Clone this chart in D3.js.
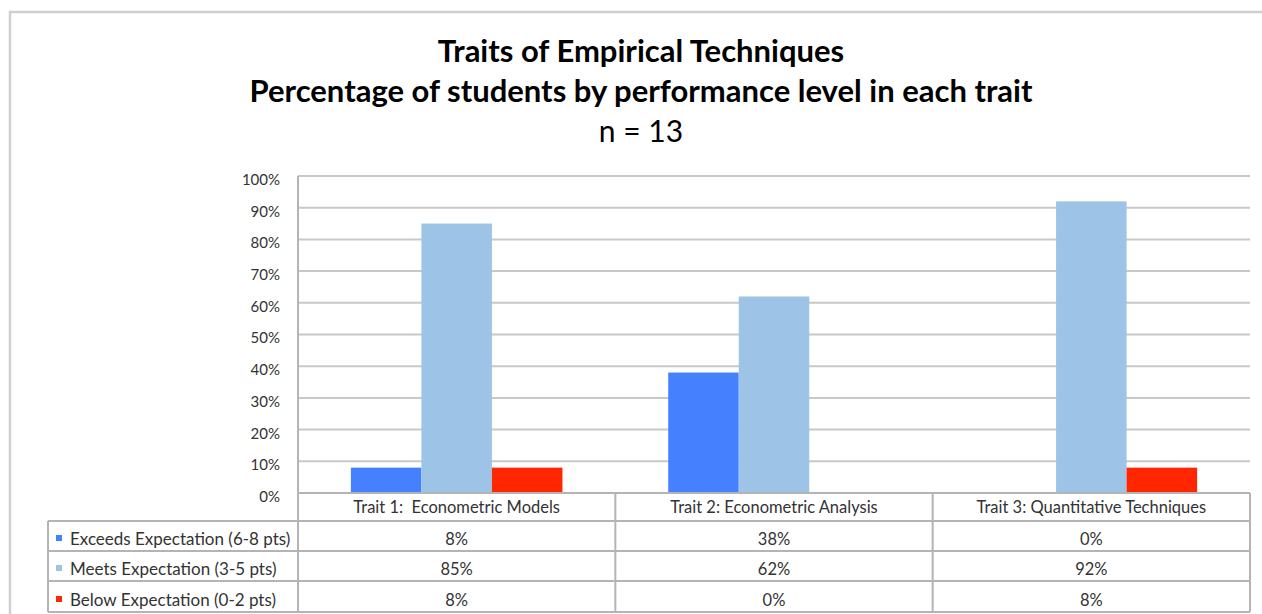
<!DOCTYPE html>
<html>
<head>
<meta charset="utf-8">
<script src="https://cdn.jsdelivr.net/npm/d3@7"></script>
<style>
  body { margin: 0; background: #fff; }
  svg text { font-family: Lato, "Open Sans", sans-serif; white-space: pre; }
</style>
</head>
<body>
<div id="chart"></div>
<script>
// --- data ---
const traits = ["Trait 1:  Econometric Models", "Trait 2: Econometric Analysis", "Trait 3: Quantitative Techniques"];
const levels = ["Exceeds Expectation (6-8 pts)", "Meets Expectation (3-5 pts)", "Below Expectation (0-2 pts)"];
const exceeds = [8, 38, 0];
const meets = [85, 62, 92];
const below = [8, 0, 8];
const yTicks = [0, 10, 20, 30, 40, 50, 60, 70, 80, 90, 100];
const colors = ["#4580ff", "#9dc3e6", "#ff2600"];
const titleLines = ["Traits of Empirical Techniques", "Percentage of students by performance level in each trait", "n = 13"];

const series = [exceeds, meets, below];

const W = 1262, H = 614;
const plotLeft = 298, plotRight = 1250, plotTop = 176, plotBottom = 493;
const rowH = [521, 551, 581, 612]; // table row bottoms (header, rows)
const legendLeft = 48;

const svg = d3.select("#chart").append("svg").attr("width", W).attr("height", H);

// outer frame
svg.append("path").attr("d", `M10,${H + 5} V12 H${W + 5}`)
  .attr("fill", "none").attr("stroke", "#cfcfcf").attr("stroke-width", 2.5);

// titles
const titleY = [62, 102, 142];
const titleSize = [31, 31, 30];
svg.selectAll(".title").data(titleLines).enter().append("text")
  .attr("class", "title")
  .attr("x", 641).attr("y", (d, i) => titleY[i])
  .attr("text-anchor", "middle")
  .style("font-size", (d, i) => titleSize[i] + "px")
  .style("font-weight", (d, i) => i < 2 ? "700" : "400")
  .style("fill", "#000")
  .text(d => d);

const y = d3.scaleLinear().domain([0, 100]).range([plotBottom, plotTop]);
const x = d3.scaleBand().domain(traits).range([plotLeft, plotRight]).padding(0);
const xs = d3.scaleBand().domain(d3.range(levels.length)).range([0, x.bandwidth()]).paddingInner(0).paddingOuter(0.75);

// gridlines
svg.append("g").selectAll("line").data(yTicks).enter().append("line")
  .attr("x1", plotLeft).attr("x2", plotRight)
  .attr("y1", d => y(d)).attr("y2", d => y(d))
  .attr("stroke", "#c8c8c8").attr("stroke-width", 2);

// y axis labels
const yAxis = d3.axisLeft(y).tickValues(yTicks).tickFormat(d => d + "%").tickSize(0).tickPadding(18);
const ya = svg.append("g").attr("transform", `translate(${plotLeft},0)`).call(yAxis);
ya.select(".domain").remove();
ya.selectAll("text").attr("dy", "0.56em").style("font-size", "15px").style("fill", "#333");

// bars
const bars = svg.append("g");
traits.forEach((t, ti) => {
  series.forEach((s, si) => {
    if (!s[ti]) return;
    bars.append("rect")
      .attr("x", x(t) + xs(si)).attr("width", xs.bandwidth())
      .attr("y", y(s[ti])).attr("height", y(0) - y(s[ti]))
      .attr("fill", colors[si]);
  });
});

// data table
const tbl = svg.append("g").attr("stroke", "#b4b4b4").attr("stroke-width", 2);
tbl.append("line").attr("x1", plotLeft).attr("x2", plotRight).attr("y1", plotBottom).attr("y2", plotBottom);
rowH.forEach(r => tbl.append("line").attr("x1", legendLeft).attr("x2", plotRight).attr("y1", r).attr("y2", r));
tbl.append("line").attr("x1", plotLeft).attr("x2", plotLeft).attr("y1", plotTop).attr("y2", rowH[3]);
tbl.append("line").attr("x1", legendLeft).attr("x2", legendLeft).attr("y1", rowH[0]).attr("y2", rowH[3]);
traits.forEach(t => tbl.append("line").attr("x1", x(t) + x.bandwidth()).attr("x2", x(t) + x.bandwidth())
  .attr("y1", plotBottom).attr("y2", rowH[3]));

// category labels
svg.append("g").selectAll("text").data(traits).enter().append("text")
  .attr("x", d => x(d) + x.bandwidth() / 2).attr("y", 513)
  .attr("text-anchor", "middle").style("font-size", "16.5px").style("fill", "#333")
  .text(d => d);

// rows
levels.forEach((lv, li) => {
  const bot = rowH[li + 1], base = bot - 6;
  svg.append("rect").attr("x", 56).attr("y", base - 10).attr("width", 6).attr("height", 6).attr("fill", colors[li]);
  svg.append("text").attr("x", 70).attr("y", base).style("font-size", "17px").style("fill", "#333").text(lv);
  traits.forEach((t, ti) => {
    svg.append("text").attr("x", x(t) + x.bandwidth() / 2).attr("y", base)
      .attr("text-anchor", "middle").style("font-size", "16.5px").style("fill", "#333")
      .text(series[li][ti] + "%");
  });
});
</script>
</body>
</html>
